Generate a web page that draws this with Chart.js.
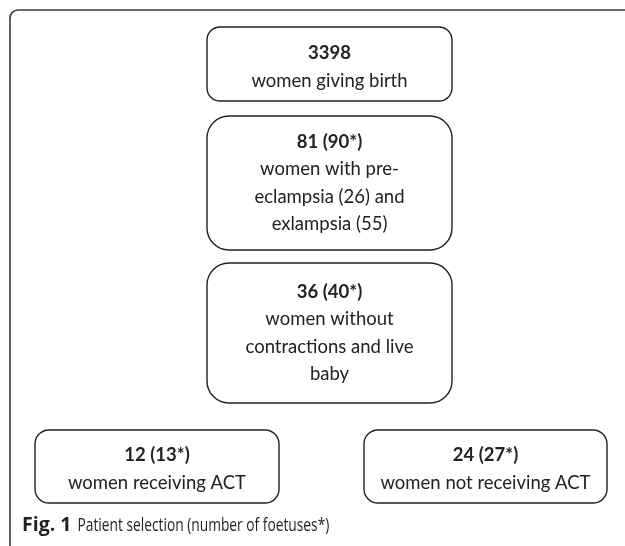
<!DOCTYPE html>
<html>
<head>
<meta charset="utf-8">
<script src="https://cdn.jsdelivr.net/npm/chart.js@4"></script>
<style>
  html, body { margin: 0; padding: 0; background: #fff; }
  #wrap { width: 625px; height: 546px; }
</style>
</head>
<body>
<div id="wrap"><canvas id="flow" width="625" height="546"></canvas></div>
<script>
// flow chart data
const womenCounts = [3398, 81, 36, 12, 24];
const foetusCounts = [null, 90, 40, 13, 27];
const descriptions = [
  ['women giving birth'],
  ['women with pre-', 'eclampsia (26) and', 'exlampsia (55)'],
  ['women without', 'contractions and live', 'baby'],
  ['women receiving ACT'],
  ['women not receiving ACT']
];
const captionBold = 'Fig. 1';
const captionText = 'Patient selection (number of foetuses*)';

// box layout in scale units (x: 0-625, y: 0-546 downwards)
const boxLayout = [
  { x0: 207, x1: 452, y0: 27, y1: 101, r: 13 },
  { x0: 207, x1: 452, y0: 116, y1: 250, r: 22 },
  { x0: 207, x1: 452, y0: 263, y1: 403, r: 22 },
  { x0: 35, x1: 279, y0: 430, y1: 503, r: 14 },
  { x0: 364, x1: 607, y0: 430, y1: 503, r: 14 }
];

function roundRect(ctx, x, y, w, h, r) {
  ctx.beginPath();
  ctx.moveTo(x + r, y);
  ctx.lineTo(x + w - r, y);
  ctx.arcTo(x + w, y, x + w, y + r, r);
  ctx.lineTo(x + w, y + h - r);
  ctx.arcTo(x + w, y + h, x + w - r, y + h, r);
  ctx.lineTo(x + r, y + h);
  ctx.arcTo(x, y + h, x, y + h - r, r);
  ctx.lineTo(x, y + r);
  ctx.arcTo(x, y, x + r, y, r);
  ctx.closePath();
}

const flowPlugin = {
  id: 'flowBoxes',
  afterDatasetsDraw(chart) {
    const ctx = chart.ctx;
    const xs = chart.scales.x, ys = chart.scales.y;
    const px = v => xs.getPixelForValue(v);
    const py = v => ys.getPixelForValue(v);
    ctx.save();

    // outer frame, open to the right and bottom
    ctx.strokeStyle = '#3a3a3a';
    ctx.lineWidth = 1.6;
    ctx.beginPath();
    ctx.moveTo(px(625) + 5, py(10));
    ctx.lineTo(px(18), py(10));
    ctx.arcTo(px(10), py(10), px(10), py(18), 8);
    ctx.lineTo(px(10), py(546) + 5);
    ctx.stroke();

    // boxes
    ctx.strokeStyle = '#222';
    ctx.lineWidth = 1.4;
    ctx.fillStyle = '#222';
    ctx.textAlign = 'center';
    ctx.textBaseline = 'middle';
    womenCounts.forEach((n, i) => {
      const b = boxLayout[i];
      const x0 = px(b.x0), x1 = px(b.x1), y0 = py(b.y0), y1 = py(b.y1);
      roundRect(ctx, x0, y0, x1 - x0, y1 - y0, b.r);
      ctx.stroke();

      const title = foetusCounts[i] == null ? String(n) : n + ' (' + foetusCounts[i] + '*)';
      const lines = [title].concat(descriptions[i]);
      const lh = lines.length === 2 ? 28 : 27.5;
      const shift = lines.length === 2 ? 3 : 0;
      const cx = (x0 + x1) / 2;
      const top = (y0 + y1) / 2 - (lines.length - 1) * lh / 2 + shift;
      lines.forEach((t, k) => {
        ctx.font = (k === 0 ? 'bold ' : '') + '18.5px Lato';
        ctx.fillText(t, cx, top + k * lh);
      });
    });

    // caption
    ctx.textAlign = 'left';
    ctx.textBaseline = 'alphabetic';
    ctx.fillStyle = '#231f20';
    const cy = py(531);
    ctx.font = 'bold 19.5px "Open Sans"';
    ctx.fillText(captionBold, px(22), cy);
    const w = ctx.measureText(captionBold).width;
    ctx.translate(px(22) + w + 6, cy);
    ctx.scale(0.765, 1);
    ctx.font = '18px "Open Sans"';
    ctx.fillText(captionText, 0, 0);

    ctx.restore();
  }
};

new Chart(document.getElementById('flow'), {
  type: 'scatter',
  data: { datasets: [{ data: [], pointRadius: 0 }] },
  options: {
    responsive: false,
    animation: false,
    layout: { padding: 0 },
    plugins: { legend: { display: false }, tooltip: { enabled: false } },
    scales: {
      x: { type: 'linear', min: 0, max: 625, display: false },
      y: { type: 'linear', min: 0, max: 546, reverse: true, display: false }
    }
  },
  plugins: [flowPlugin]
});
</script>
</body>
</html>
